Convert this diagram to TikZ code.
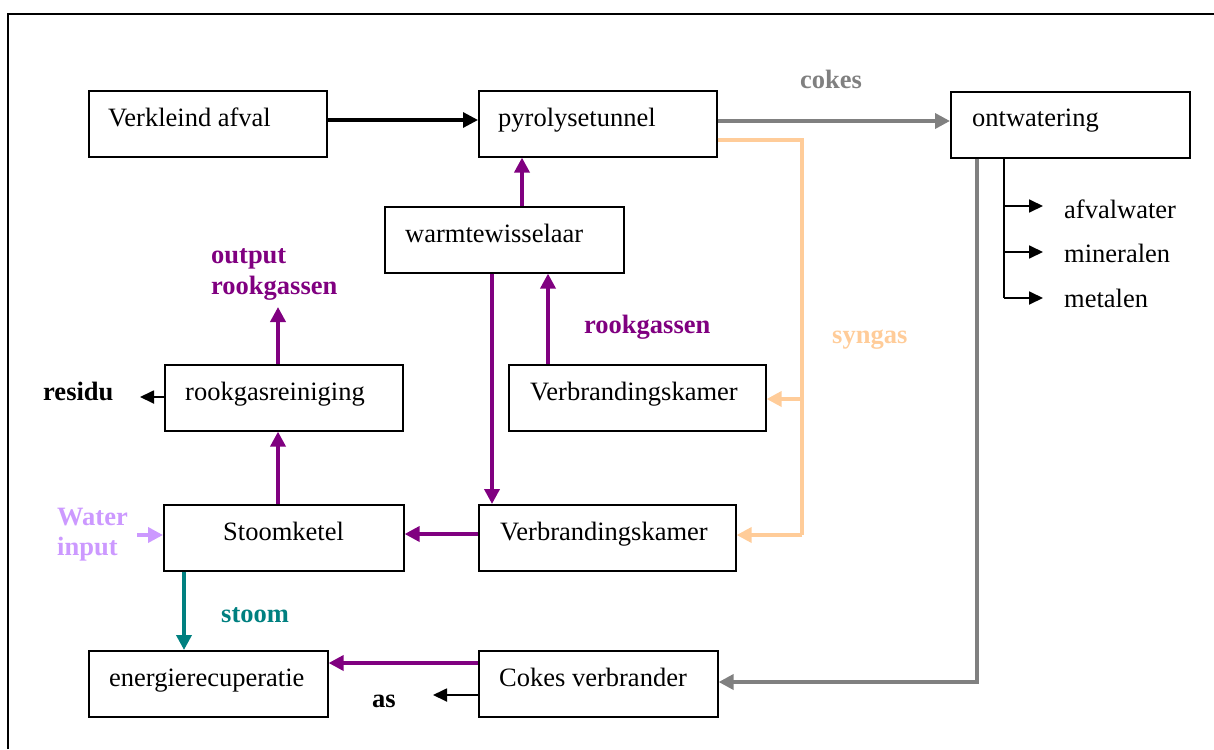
\documentclass[tikz,border=0pt]{standalone}
\usepackage{fontspec}
\setmainfont{Liberation Serif}
\usetikzlibrary{arrows.meta}
\definecolor{flowpurple}{HTML}{800080}
\definecolor{flowgray}{HTML}{808080}
\definecolor{flowpeach}{HTML}{FFCC99}
\definecolor{flowlilac}{HTML}{CC99FF}
\definecolor{flowteal}{HTML}{008080}
\begin{document}
\begin{tikzpicture}[x=1pt,y=-1pt,
  box/.style={draw, line width=1.6pt, minimum height=66pt, anchor=north west, inner sep=0pt},
  txt/.style={anchor=base west, inner sep=0pt, font=\fontsize{26.5}{30}\selectfont},
  tag/.style={anchor=base west, inner sep=0pt, align=left, font=\fontsize{26.5}{30}\selectfont\bfseries},
  tip/.style={-{Triangle[length=15pt,width=15pt]}},
  thick flow/.style={line width=3.6pt, tip},
  thin flow/.style={line width=1.8pt, -{Triangle[length=14pt,width=13pt]}}]
\useasboundingbox (0,0) rectangle (1214,749);
% outer frame (open to the right and bottom)
\draw[line width=2pt] (8,749) -- (8,14) -- (1214,14);

% process boxes
\node[box, minimum width=238pt] (verk)  at (88,90)  {};
\node[box, minimum width=238pt] (pyro)  at (478,90) {};
\node[box, minimum width=239pt] (ontw)  at (950,91) {};
\node[box, minimum width=239pt] (warm)  at (384,206) {};
\node[box, minimum width=257pt] (vbk1)  at (508,364) {};
\node[box, minimum width=238pt] (rgr)   at (164,364) {};
\node[box, minimum width=240pt] (stoom) at (163,504) {};
\node[box, minimum width=257pt] (vbk2)  at (478,504) {};
\node[box, minimum width=239pt] (energ) at (88,650) {};
\node[box, minimum width=239pt] (cokes) at (478,650) {};

% box texts
\node[txt] (verk-t)  at (108,126) {Verkleind afval};
\node[txt] (pyro-t)  at (498,126) {pyrolysetunnel};
\node[txt] (ontw-t)  at (972,127) {ontwatering};
\node[txt] (warm-t)  at (405,242) {warmtewisselaar};
\node[txt] (vbk1-t)  at (530,400) {Verbrandingskamer};
\node[txt] (rgr-t)   at (185,400) {rookgasreiniging};
\node[txt] (stoom-t) at (223,540) {Stoomketel};
\node[txt] (vbk2-t)  at (500,540) {Verbrandingskamer};
\node[txt] (energ-t) at (109,686) {energierecuperatie};
\node[txt] (cokes-t) at (499,686) {Cokes verbrander};

% outputs of the dewatering stage
\node[txt] (afv) at (1064,218) {afvalwater};
\node[txt] (min) at (1064,262) {mineralen};
\node[txt] (met) at (1064,307) {metalen};

% flow labels
\node[tag, text=flowgray]   (l-cokes) at (800,89)  {cokes};
\node[tag, text=flowpurple] (l-rook)  at (584,333) {rookgassen};
\node[tag, text=flowpeach]  (l-syn)   at (832,343) {syngas};
\node[tag, text=flowpurple] (l-out1)  at (211,263) {output};
\node[tag, text=flowpurple] (l-out2)  at (211,294) {rookgassen};
\node[tag]                  (l-res)   at (43,400)  {residu};
\node[tag, text=flowlilac]  (l-wat1)  at (57,525)  {Water};
\node[tag, text=flowlilac]  (l-wat2)  at (57,555)  {input};
\node[tag, text=flowteal]   (l-stm)   at (221,622) {stoom};
\node[tag]                  (l-as)    at (372,707) {as};

% free ends and junctions
\coordinate (syn-top) at (802,140);
\coordinate (syn1) at (802,399);
\coordinate (syn2) at (802,535);
\coordinate (tree-end) at (1004,298);
\coordinate (out-end) at (278,307);
\coordinate (res-end) at (140,397);
\coordinate (wat-start) at (137,535);
\coordinate (as-end) at (433,695);

% main waste line
\draw[thick flow, line width=3.2pt] (verk.east |- 0,120) -- (pyro.west |- 0,120);
\draw[thick flow, flowgray] (pyro.east |- 0,121) -- (ontw.west |- 0,121);

% syngas distribution
\draw[line width=3.6pt, flowpeach] (pyro.east |- syn-top) -- (syn-top) -- (syn2);
\draw[thick flow, flowpeach] (syn1) -- (vbk1.east |- syn1);
\draw[thick flow, flowpeach] (syn2) -- (vbk2.east |- syn2);

% cokes to the cokes burner
\draw[thick flow, flowgray] (ontw.south -| 977,0) |- (cokes.east |- 0,682);

% dewatering products
\draw[line width=1.8pt] (ontw.south -| tree-end) -- (tree-end);
\draw[thin flow] (1004,206) -- (1043,206);
\draw[thin flow] (1004,252) -- (1043,252);
\draw[thin flow] (tree-end) -- (1043,298);

% flue gas circuit
\draw[thick flow, flowpurple] (warm.north -| 522,0) -- (pyro.south -| 522,0);
\draw[thick flow, flowpurple] (vbk1.north -| 548,0) -- (warm.south -| 548,0);
\draw[thick flow, flowpurple] (warm.south -| 492,0) -- (vbk2.north -| 492,0);
\draw[thick flow, flowpurple] (vbk2.west |- 0,534) -- (stoom.east |- 0,534);
\draw[thick flow, flowpurple] (stoom.north -| 278,0) -- (rgr.south -| 278,0);
\draw[thick flow, flowpurple] (rgr.north -| out-end) -- (out-end);
\draw[thin flow] (rgr.west |- res-end) -- (res-end);

% boiler water and steam
\draw[thick flow, flowlilac] (wat-start) -- (stoom.west |- wat-start);
\draw[thick flow, flowteal] (stoom.south -| 184,0) -- (energ.north -| 184,0);

% cokes burner outputs
\draw[thick flow, flowpurple] (cokes.west |- 0,663) -- (energ.east |- 0,663);
\draw[thin flow] (cokes.west |- as-end) -- (as-end);
\end{tikzpicture}
\end{document}
